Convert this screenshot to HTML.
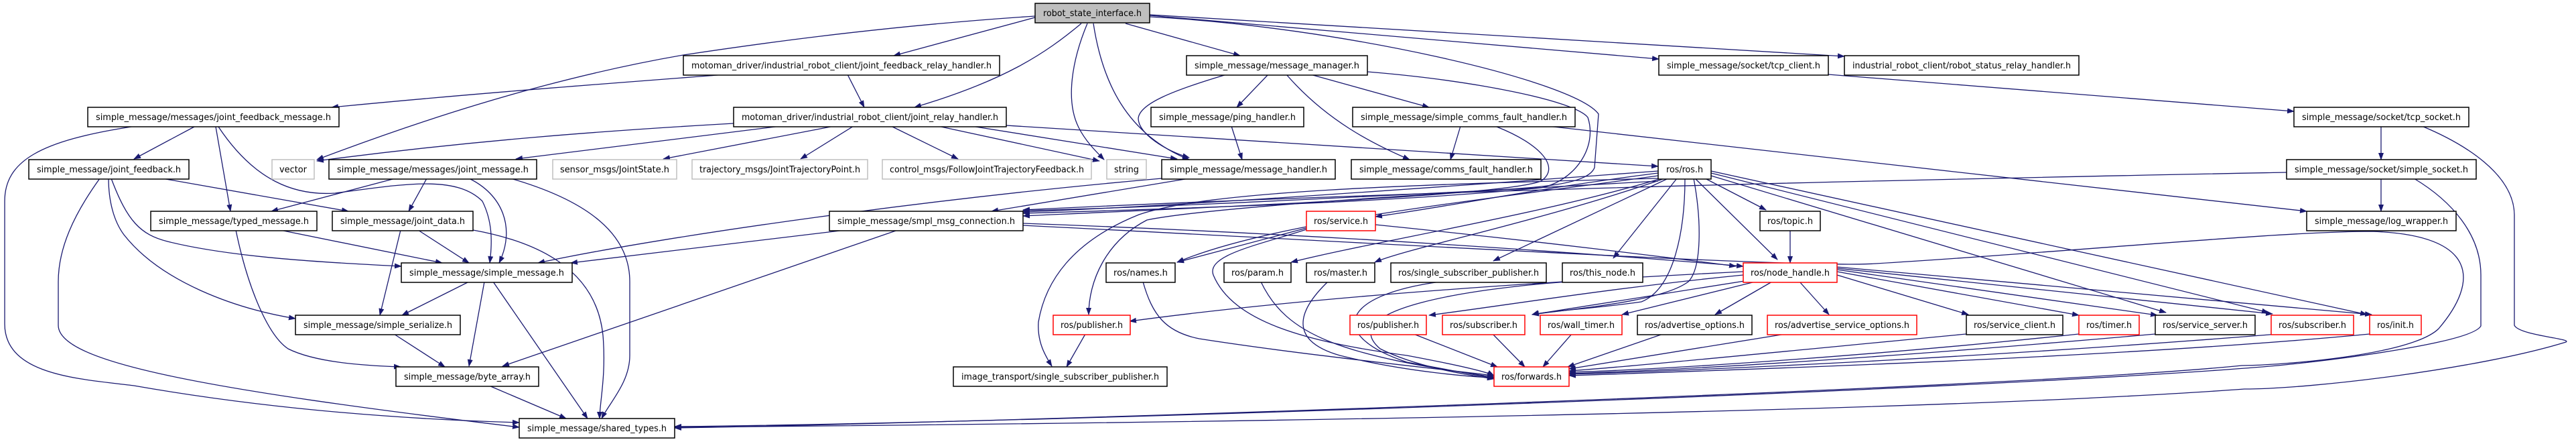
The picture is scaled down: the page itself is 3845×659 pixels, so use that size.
<!DOCTYPE html>
<html><head><meta charset="utf-8"><style>
html,body{margin:0;padding:0;background:#fff;}
svg{display:block;}
text{font-family:"DejaVu Sans","Liberation Sans",sans-serif;font-size:13px;fill:#000;}
.e{fill:none;stroke:#191970;stroke-width:1.3;marker-end:url(#a);}
.b{fill:#fff;stroke:#000;stroke-width:1.5;}
.g{fill:#fff;stroke:#bfbfbf;stroke-width:1.5;}
.r{fill:#fff;stroke:#ff0000;stroke-width:1.5;}
</style></head><body>
<svg width="3845" height="659" viewBox="0 0 3845 659" xmlns="http://www.w3.org/2000/svg">
<defs><marker id="a" markerUnits="userSpaceOnUse" markerWidth="11" markerHeight="8" refX="10" refY="4" orient="auto"><path d="M0,0 L11,4 L0,8 z" fill="#191970"/></marker></defs>
<g>
<path class="e" d="M1545,26 L1334,83"/>
<path class="e" d="M1545,24 C1300,40 1100,70 1020,82 C800,120 600,190 473,238"/>
<path class="e" d="M1084,111 C900,125 700,140 495,160"/>
<path class="e" d="M1614,35 C1560,80 1500,120 1365,160"/>
<path class="e" d="M1623,35 C1600,90 1590,150 1610,190 C1620,210 1635,225 1648,238"/>
<path class="e" d="M1632,35 C1645,120 1680,200 1775,238"/>
<path class="e" d="M1680,35 L1851,83"/>
<path class="e" d="M1716,23 L2476,88"/>
<path class="e" d="M1716,22 L2753,84"/>
<path class="e" d="M1716,25 C2000,40 2350,120 2386,170 L2380,250 C2370,275 2300,280 2200,285 C1900,300 1700,310 1527,314"/>
<path class="e" d="M2041,107 C2200,120 2350,150 2370,175 C2385,220 2350,270 2300,280 C2100,300 1800,310 1527,318"/>
<path class="e" d="M2234,189 C2300,215 2330,250 2300,270 C2250,290 1900,305 1527,322"/>
<path class="e" d="M1095,184 C900,195 700,210 473,240"/>
<path class="e" d="M1165,188 L770,237"/>
<path class="e" d="M1245,188 L990,237"/>
<path class="e" d="M1274,188 L1195,237"/>
<path class="e" d="M1330,188 L1430,237"/>
<path class="e" d="M1400,188 L1641,240"/>
<path class="e" d="M1450,188 L1757,237"/>
<path class="e" d="M1502,187 C1900,212 2300,238 2475,248"/>
<path class="e" d="M1265,111 L1290,160"/>
<path class="e" d="M1831,111 C1750,135 1700,155 1699,177 C1700,200 1740,225 1775,235"/>
<path class="e" d="M1893,111 L1846,160"/>
<path class="e" d="M1920,111 C1980,180 2050,215 2104,238"/>
<path class="e" d="M1956,111 L2133,160"/>
<path class="e" d="M1838,188 L1854,238"/>
<path class="e" d="M2180,188 L2165,238"/>
<path class="e" d="M2310,188 L3443,315"/>
<path class="e" d="M1775,266 L1480,315"/>
<path class="e" d="M1734,266 C1400,295 1000,350 803,392"/>
<path class="e" d="M1262,343 L852,392"/>
<path class="e" d="M1340,343 L750,546"/>
<path class="e" d="M1527,333 C2000,350 2400,380 2602,397"/>
<path class="e" d="M1527,336 C2200,370 2700,400 2800,393 C3100,375 3400,345 3540,345 C3700,350 3700,420 3640,490 C3600,530 3400,545 3346,545 C3000,580 1500,630 1007,638"/>
<path class="e" d="M590,266 L405,315"/>
<path class="e" d="M637,266 L610,315"/>
<path class="e" d="M700,266 C750,290 770,340 745,392"/>
<path class="e" d="M762,266 C880,300 940,350 940,420 L940,530 C940,570 910,600 898,624"/>
<path class="e" d="M326,189 C380,270 440,292 500,288 C600,275 680,260 720,300 C735,330 735,360 731,392"/>
<path class="e" d="M290,189 L200,237"/>
<path class="e" d="M322,189 L344,315"/>
<path class="e" d="M196,189 C60,210 7,240 7,300 L7,483 C7,560 120,565 200,575 C400,610 600,625 775,630"/>
<path class="e" d="M149,266 C110,320 87,370 87,420 L87,485 C87,540 300,580 775,637"/>
<path class="e" d="M162,266 C162,300 170,330 185,350 C240,420 350,460 441,475"/>
<path class="e" d="M166,266 C190,330 210,350 250,360 C350,385 500,392 599,397"/>
<path class="e" d="M242,266 L520,315"/>
<path class="e" d="M352,343 C370,430 400,500 430,520 C470,540 540,545 598,547"/>
<path class="e" d="M418,343 L660,392"/>
<path class="e" d="M598,343 L567,470"/>
<path class="e" d="M624,343 L700,392"/>
<path class="e" d="M706,343 C800,360 890,400 900,500 C905,560 895,600 895,624"/>
<path class="e" d="M723,420 L700,546"/>
<path class="e" d="M736,420 L877,624"/>
<path class="e" d="M700,420 L600,470"/>
<path class="e" d="M588,498 L664,547"/>
<path class="e" d="M730,575 L845,624"/>
<path class="e" d="M2475,258 C2300,280 2150,310 2053,323"/>
<path class="e" d="M2475,262 C2200,300 1900,330 1757,391"/>
<path class="e" d="M2480,266 C2300,320 2050,360 1927,391"/>
<path class="e" d="M2485,266 C2300,330 2100,370 2052,391"/>
<path class="e" d="M2490,266 L2229,389"/>
<path class="e" d="M2503,266 L2408,385"/>
<path class="e" d="M2530,266 L2653,387"/>
<path class="e" d="M2545,266 L2636,313"/>
<path class="e" d="M2475,270 C2100,290 1800,310 1712,328 C1650,360 1625,420 1625,469"/>
<path class="e" d="M2475,266 C2100,275 1800,285 1700,320 C1600,360 1560,420 1550,480 C1548,510 1560,530 1570,546"/>
<path class="e" d="M2515,266 C2515,340 2500,430 2450,450 C2380,460 2300,465 2287,469"/>
<path class="e" d="M2528,266 C2540,330 2540,400 2520,420 C2480,450 2350,460 2287,469"/>
<path class="e" d="M2554,262 L3233,466"/>
<path class="e" d="M2554,258 L3386,466"/>
<path class="e" d="M2554,255 L3533,469"/>
<path class="e" d="M2475,255 C2000,290 1700,310 1527,316"/>
<path class="e" d="M1950,340 L1757,391"/>
<path class="e" d="M1950,342 C1880,365 1800,380 1811,410 C1840,480 1950,510 2100,530 C2180,545 2220,555 2230,560"/>
<path class="e" d="M2053,335 C2300,360 2500,385 2591,397"/>
<path class="e" d="M1706,420 C1720,470 1740,495 1790,505 C1950,530 2150,550 2230,560"/>
<path class="e" d="M1882,420 C1920,500 2000,530 2230,562"/>
<path class="e" d="M1982,420 C1930,470 1930,510 2000,530 C2100,555 2200,562 2230,563"/>
<path class="e" d="M2150,420 C2000,440 1980,500 2100,540 L2230,564"/>
<path class="e" d="M2340,420 C2200,430 1990,460 2060,520 C2120,550 2200,560 2230,565"/>
<path class="e" d="M2602,405 C2200,425 1900,450 1686,479"/>
<path class="e" d="M2602,410 C2400,430 2250,455 2133,470"/>
<path class="e" d="M2610,418 L2287,469"/>
<path class="e" d="M2620,420 L2421,469"/>
<path class="e" d="M2645,420 L2560,469"/>
<path class="e" d="M2686,420 L2730,469"/>
<path class="e" d="M2742,410 L2938,469"/>
<path class="e" d="M2742,405 L3103,470"/>
<path class="e" d="M2742,402 L3220,470"/>
<path class="e" d="M2742,400 L3392,468"/>
<path class="e" d="M2742,398 L3540,469"/>
<path class="e" d="M2110,498 L2235,547"/>
<path class="e" d="M2228,498 L2276,547"/>
<path class="e" d="M2346,498 L2303,547"/>
<path class="e" d="M2482,498 L2340,547"/>
<path class="e" d="M2665,498 L2342,550"/>
<path class="e" d="M2935,498 C2600,530 2450,545 2342,553"/>
<path class="e" d="M3103,498 C2800,530 2500,550 2342,555"/>
<path class="e" d="M3217,498 C2800,535 2500,552 2342,557"/>
<path class="e" d="M3400,498 C3000,530 2600,550 2342,558"/>
<path class="e" d="M3537,498 C3200,530 2700,548 2342,560"/>
<path class="e" d="M2672,343 L2672,392"/>
<path class="e" d="M1620,498 L1592,547"/>
<path class="e" d="M2729,111 L3424,166"/>
<path class="e" d="M3554,188 L3554,238"/>
<path class="e" d="M3615,188 C3680,215 3752,260 3753,320 L3753,485 C3760,500 3840,505 3830,510 C3700,550 3450,580 3350,580 C2800,620 1500,633 1007,637"/>
<path class="e" d="M3554,266 L3554,315"/>
<path class="e" d="M3413,257 C3000,265 2200,280 1527,313"/>
<path class="e" d="M3603,266 C3660,300 3703,350 3703,410 L3703,486 C3690,510 3500,535 3400,545 C3000,580 1600,630 1007,636"/>
</g>
<g>
<rect x="1545" y="5" width="171" height="29" fill="#bfbfbf" stroke="#000" stroke-width="1.5"/><text x="1630.5" y="24" text-anchor="middle" textLength="147" lengthAdjust="spacingAndGlyphs">robot_state_interface.h</text>
<rect class="b" x="1020" y="83" width="472" height="29"/><text x="1256" y="102" text-anchor="middle" textLength="448" lengthAdjust="spacingAndGlyphs">motoman_driver/industrial_robot_client/joint_feedback_relay_handler.h</text>
<rect class="b" x="1771" y="83" width="270" height="29"/><text x="1906" y="102" text-anchor="middle" textLength="246" lengthAdjust="spacingAndGlyphs">simple_message/message_manager.h</text>
<rect class="b" x="2476" y="83" width="253" height="29"/><text x="2602.5" y="102" text-anchor="middle" textLength="229" lengthAdjust="spacingAndGlyphs">simple_message/socket/tcp_client.h</text>
<rect class="b" x="2753" y="83" width="350" height="29"/><text x="2928" y="102" text-anchor="middle" textLength="326" lengthAdjust="spacingAndGlyphs">industrial_robot_client/robot_status_relay_handler.h</text>
<rect class="b" x="131" y="160" width="375" height="29"/><text x="318.5" y="179" text-anchor="middle" textLength="351" lengthAdjust="spacingAndGlyphs">simple_message/messages/joint_feedback_message.h</text>
<rect class="b" x="1095" y="160" width="407" height="29"/><text x="1298.5" y="179" text-anchor="middle" textLength="383" lengthAdjust="spacingAndGlyphs">motoman_driver/industrial_robot_client/joint_relay_handler.h</text>
<rect class="b" x="1718" y="160" width="228" height="29"/><text x="1832" y="179" text-anchor="middle" textLength="204" lengthAdjust="spacingAndGlyphs">simple_message/ping_handler.h</text>
<rect class="b" x="2019" y="160" width="332" height="29"/><text x="2185" y="179" text-anchor="middle" textLength="308" lengthAdjust="spacingAndGlyphs">simple_message/simple_comms_fault_handler.h</text>
<rect class="b" x="3424" y="160" width="261" height="29"/><text x="3554.5" y="179" text-anchor="middle" textLength="237" lengthAdjust="spacingAndGlyphs">simple_message/socket/tcp_socket.h</text>
<rect class="b" x="43" y="238" width="239" height="29"/><text x="162.5" y="257" text-anchor="middle" textLength="215" lengthAdjust="spacingAndGlyphs">simple_message/joint_feedback.h</text>
<rect class="g" x="406" y="238" width="63" height="29"/><text x="437.5" y="257" text-anchor="middle" textLength="41" lengthAdjust="spacingAndGlyphs">vector</text>
<rect class="b" x="491" y="238" width="310" height="29"/><text x="646" y="257" text-anchor="middle" textLength="286" lengthAdjust="spacingAndGlyphs">simple_message/messages/joint_message.h</text>
<rect class="g" x="825" y="238" width="185" height="29"/><text x="917.5" y="257" text-anchor="middle" textLength="163" lengthAdjust="spacingAndGlyphs">sensor_msgs/JointState.h</text>
<rect class="g" x="1033" y="238" width="262" height="29"/><text x="1164" y="257" text-anchor="middle" textLength="240" lengthAdjust="spacingAndGlyphs">trajectory_msgs/JointTrajectoryPoint.h</text>
<rect class="g" x="1317" y="238" width="312" height="29"/><text x="1473" y="257" text-anchor="middle" textLength="290" lengthAdjust="spacingAndGlyphs">control_msgs/FollowJointTrajectoryFeedback.h</text>
<rect class="g" x="1652" y="238" width="59" height="29"/><text x="1681.5" y="257" text-anchor="middle" textLength="37" lengthAdjust="spacingAndGlyphs">string</text>
<rect class="b" x="1734" y="238" width="259" height="29"/><text x="1863.5" y="257" text-anchor="middle" textLength="235" lengthAdjust="spacingAndGlyphs">simple_message/message_handler.h</text>
<rect class="b" x="2017" y="238" width="283" height="29"/><text x="2158.5" y="257" text-anchor="middle" textLength="259" lengthAdjust="spacingAndGlyphs">simple_message/comms_fault_handler.h</text>
<rect class="b" x="2475" y="238" width="79" height="29"/><text x="2514.5" y="257" text-anchor="middle" textLength="55" lengthAdjust="spacingAndGlyphs">ros/ros.h</text>
<rect class="b" x="3413" y="238" width="283" height="29"/><text x="3554.5" y="257" text-anchor="middle" textLength="259" lengthAdjust="spacingAndGlyphs">simple_message/socket/simple_socket.h</text>
<rect class="b" x="225" y="315" width="248" height="29"/><text x="349" y="334" text-anchor="middle" textLength="224" lengthAdjust="spacingAndGlyphs">simple_message/typed_message.h</text>
<rect class="b" x="496" y="315" width="210" height="29"/><text x="601" y="334" text-anchor="middle" textLength="186" lengthAdjust="spacingAndGlyphs">simple_message/joint_data.h</text>
<rect class="b" x="1238" y="315" width="289" height="29"/><text x="1382.5" y="334" text-anchor="middle" textLength="265" lengthAdjust="spacingAndGlyphs">simple_message/smpl_msg_connection.h</text>
<rect class="r" x="1950" y="315" width="103" height="29"/><text x="2001.5" y="334" text-anchor="middle" textLength="81" lengthAdjust="spacingAndGlyphs">ros/service.h</text>
<rect class="b" x="2627" y="315" width="90" height="29"/><text x="2672" y="334" text-anchor="middle" textLength="68" lengthAdjust="spacingAndGlyphs">ros/topic.h</text>
<rect class="b" x="3443" y="315" width="223" height="29"/><text x="3554.5" y="334" text-anchor="middle" textLength="199" lengthAdjust="spacingAndGlyphs">simple_message/log_wrapper.h</text>
<rect class="b" x="599" y="392" width="255" height="29"/><text x="726.5" y="411" text-anchor="middle" textLength="231" lengthAdjust="spacingAndGlyphs">simple_message/simple_message.h</text>
<rect class="b" x="1651" y="392" width="103" height="29"/><text x="1702.5" y="411" text-anchor="middle" textLength="81" lengthAdjust="spacingAndGlyphs">ros/names.h</text>
<rect class="b" x="1827" y="392" width="100" height="29"/><text x="1877" y="411" text-anchor="middle" textLength="78" lengthAdjust="spacingAndGlyphs">ros/param.h</text>
<rect class="b" x="1950" y="392" width="102" height="29"/><text x="2001" y="411" text-anchor="middle" textLength="80" lengthAdjust="spacingAndGlyphs">ros/master.h</text>
<rect class="b" x="2076" y="392" width="232" height="29"/><text x="2192" y="411" text-anchor="middle" textLength="210" lengthAdjust="spacingAndGlyphs">ros/single_subscriber_publisher.h</text>
<rect class="b" x="2332" y="392" width="120" height="29"/><text x="2392" y="411" text-anchor="middle" textLength="98" lengthAdjust="spacingAndGlyphs">ros/this_node.h</text>
<rect class="r" x="2602" y="392" width="140" height="29"/><text x="2672" y="411" text-anchor="middle" textLength="118" lengthAdjust="spacingAndGlyphs">ros/node_handle.h</text>
<rect class="b" x="441" y="470" width="246" height="29"/><text x="564" y="489" text-anchor="middle" textLength="222" lengthAdjust="spacingAndGlyphs">simple_message/simple_serialize.h</text>
<rect class="r" x="1572" y="470" width="115" height="29"/><text x="1629.5" y="489" text-anchor="middle" textLength="93" lengthAdjust="spacingAndGlyphs">ros/publisher.h</text>
<rect class="r" x="2015" y="470" width="114" height="29"/><text x="2072" y="489" text-anchor="middle" textLength="92" lengthAdjust="spacingAndGlyphs">ros/publisher.h</text>
<rect class="r" x="2153" y="470" width="123" height="29"/><text x="2214.5" y="489" text-anchor="middle" textLength="101" lengthAdjust="spacingAndGlyphs">ros/subscriber.h</text>
<rect class="r" x="2299" y="470" width="122" height="29"/><text x="2360" y="489" text-anchor="middle" textLength="100" lengthAdjust="spacingAndGlyphs">ros/wall_timer.h</text>
<rect class="b" x="2444" y="470" width="171" height="29"/><text x="2529.5" y="489" text-anchor="middle" textLength="149" lengthAdjust="spacingAndGlyphs">ros/advertise_options.h</text>
<rect class="r" x="2638" y="470" width="223" height="29"/><text x="2749.5" y="489" text-anchor="middle" textLength="201" lengthAdjust="spacingAndGlyphs">ros/advertise_service_options.h</text>
<rect class="b" x="2935" y="470" width="144" height="29"/><text x="3007" y="489" text-anchor="middle" textLength="122" lengthAdjust="spacingAndGlyphs">ros/service_client.h</text>
<rect class="r" x="3103" y="470" width="90" height="29"/><text x="3148" y="489" text-anchor="middle" textLength="68" lengthAdjust="spacingAndGlyphs">ros/timer.h</text>
<rect class="b" x="3217" y="470" width="149" height="29"/><text x="3291.5" y="489" text-anchor="middle" textLength="127" lengthAdjust="spacingAndGlyphs">ros/service_server.h</text>
<rect class="r" x="3390" y="470" width="123" height="29"/><text x="3451.5" y="489" text-anchor="middle" textLength="101" lengthAdjust="spacingAndGlyphs">ros/subscriber.h</text>
<rect class="r" x="3537" y="470" width="77" height="29"/><text x="3575.5" y="489" text-anchor="middle" textLength="55" lengthAdjust="spacingAndGlyphs">ros/init.h</text>
<rect class="b" x="591" y="547" width="213" height="29"/><text x="697.5" y="566" text-anchor="middle" textLength="189" lengthAdjust="spacingAndGlyphs">simple_message/byte_array.h</text>
<rect class="b" x="1423" y="547" width="319" height="29"/><text x="1582.5" y="566" text-anchor="middle" textLength="295" lengthAdjust="spacingAndGlyphs">image_transport/single_subscriber_publisher.h</text>
<rect class="r" x="2230" y="547" width="112" height="29"/><text x="2286" y="566" text-anchor="middle" textLength="90" lengthAdjust="spacingAndGlyphs">ros/forwards.h</text>
<rect class="b" x="775" y="624" width="232" height="29"/><text x="891" y="643" text-anchor="middle" textLength="208" lengthAdjust="spacingAndGlyphs">simple_message/shared_types.h</text>
</g>
</svg>
</body></html>
